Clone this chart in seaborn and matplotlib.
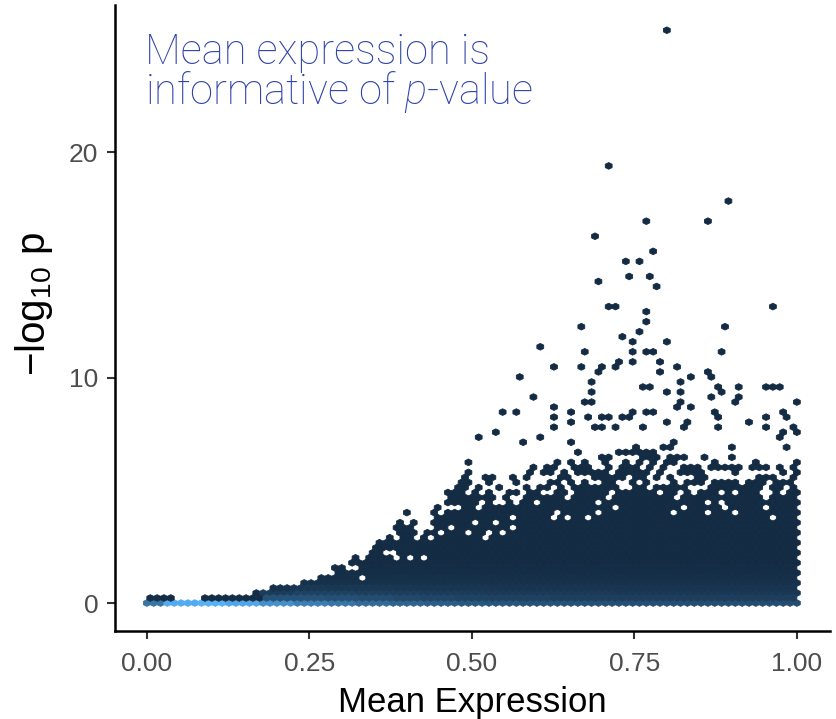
import numpy as np
import matplotlib
matplotlib.use("Agg")
import matplotlib.pyplot as plt
import seaborn as sns
from matplotlib.colors import LinearSegmentedColormap, Normalize

# ---------------- data ----------------
# upper edge of the solid (fully filled) hexbin body, per 0.025-wide x band
band_x = [0.000, 0.025, 0.050, 0.075, 0.100, 0.125, 0.150, 0.175, 0.200, 0.225,
          0.250, 0.275, 0.300, 0.325, 0.350, 0.375, 0.400, 0.425, 0.450, 0.475,
          0.500, 0.525, 0.550, 0.575, 0.600, 0.625, 0.650, 0.675, 0.700, 0.725,
          0.750, 0.775, 0.800, 0.825, 0.850, 0.875, 0.900, 0.925, 0.950, 0.975, 1.000]
solid_top = [0.25, 0.25, 0.0, 0.0, 0.25, 0.25, 0.25, 0.5, 0.7, 0.75,
             1.0, 1.25, 1.6, 1.9, 2.4, 2.7, 2.9, 2.8, 3.7, 4.1,
             4.3, 4.2, 4.4, 4.6, 4.7, 4.8, 4.9, 4.8, 5.0, 4.9,
             5.0, 4.9, 4.8, 4.8, 4.9, 5.0, 4.8, 4.9, 4.8, 4.8, 4.9]
# upper edge of the partly filled fringe above the solid body
fringe_top = [0.25, 0.25, 0.0, 0.0, 0.25, 0.25, 0.25, 0.5, 0.7, 0.75,
              1.0, 1.25, 1.8, 2.2, 2.7, 3.2, 4.0, 3.5, 4.5, 5.5,
              6.2, 5.6, 6.2, 6.6, 6.9, 7.0, 7.2, 7.4, 7.3, 7.1,
              7.6, 7.2, 7.3, 7.0, 7.0, 7.2, 7.0, 6.8, 7.2, 7.0, 6.8]

# counts of the lowest hexagon rows, per 0.05-wide x band
count_x = [0.00, 0.05, 0.10, 0.15, 0.20, 0.25, 0.30, 0.35, 0.40, 0.45, 0.50,
           0.55, 0.60, 0.65, 0.70, 0.75, 0.80, 0.85, 0.90, 0.95, 1.00]
count_y0 = [55, 95, 100, 92, 75, 62, 55, 48, 42, 38, 34,
            32, 30, 29, 28, 27, 27, 26, 26, 25, 25]
count_y1 = [3, 2, 2, 3, 30, 30, 28, 25, 22, 20, 18,
            17, 17, 16, 16, 15, 15, 15, 15, 15, 15]
count_y2 = [2, 2, 2, 2, 14, 18, 18, 16, 15, 14, 13,
            12, 12, 12, 12, 11, 11, 11, 11, 11, 11]
count_y3 = [1, 1, 1, 1, 6, 10, 10, 10, 9, 9, 9,
            8, 8, 8, 8, 8, 8, 8, 8, 8, 8]
count_upper_rows = [6, 4, 3, 2]   # rows 4..7 above the bottom

# isolated genes above the body
out_x = [0.795, 0.710, 0.895, 0.765, 0.865, 0.690, 0.780, 0.740, 0.760, 0.695,
         0.745, 0.775, 0.784, 0.709, 0.720, 0.665, 0.734, 0.757, 0.965, 0.770,
         0.770, 0.890, 0.750, 0.750, 0.750, 0.605, 0.670, 0.625, 0.665, 0.690,
         0.704, 0.724, 0.730, 0.574, 0.680, 0.680, 0.595, 0.676, 0.689, 0.625,
         0.550, 0.570, 0.650, 0.750, 0.625, 0.650, 0.675, 0.695, 0.715, 0.728,
         0.743, 0.625, 0.685, 0.695, 0.725, 0.514, 0.540, 0.580, 0.605, 0.490,
         0.800, 0.770, 0.780, 0.879, 0.790, 0.790, 0.814, 0.834, 0.859, 0.866,
         0.764, 0.776, 0.800, 0.820, 0.825, 0.875, 0.879, 0.914, 0.956, 0.964,
         0.976, 0.999, 0.865, 0.914, 0.910, 0.820, 0.815, 0.834, 0.870, 0.770,
         0.780, 0.884, 0.979, 0.984, 0.800, 0.828, 0.825, 0.764, 0.929, 0.955,
         0.955, 0.875, 0.994, 0.999, 0.979, 0.974,
         0.395, 0.405, 0.390, 0.385, 0.410, 0.440, 0.450, 0.460, 0.468, 0.480,
         0.360, 0.370]
out_y = [25.40, 19.47, 17.90, 17.03, 17.03, 16.36, 15.50, 15.05, 15.05, 14.40,
         14.40, 14.40, 13.90, 13.27, 13.27, 12.18, 11.75, 11.97, 13.04, 12.83,
         12.39, 12.39, 11.52, 11.07, 10.63, 11.29, 11.07, 10.41, 10.41, 10.19,
         10.41, 10.41, 10.63, 9.95, 9.74, 9.30, 9.06, 8.86, 8.86, 8.62,
         8.41, 8.41, 8.41, 8.41, 8.17, 7.97, 8.17, 8.17, 8.17, 8.17,
         8.17, 7.73, 7.73, 7.73, 7.73, 7.29, 7.52, 7.08, 7.29, 6.20,
         11.52, 11.07, 11.07, 11.07, 10.63, 10.19, 10.41, 9.95, 10.19, 9.95,
         9.50, 9.50, 9.30, 9.74, 9.45, 9.50, 9.30, 9.50, 9.65, 9.50,
         9.50, 8.86, 9.06, 9.06, 8.86, 8.86, 8.62, 8.62, 8.41, 8.41,
         8.41, 8.17, 8.41, 8.17, 7.97, 7.97, 7.73, 7.82, 7.97, 8.17,
         7.73, 7.73, 7.73, 7.52, 7.52, 7.29,
         4.00, 4.00, 3.60, 3.30, 3.50, 4.10, 4.30, 4.50, 4.70, 5.10,
         2.60, 2.70]

# empty cells inside the body
hole_x = [0.525, 0.625, 0.674, 0.725, 0.862, 0.908, 0.379, 0.415, 0.700, 0.815,
          0.830, 0.886, 0.955, 0.538, 0.563, 0.563, 0.548, 0.502]
hole_y = [2.9, 3.8, 3.8, 4.2, 4.0, 4.8, 2.35, 2.8, 4.4, 4.6,
          4.3, 4.3, 4.6, 3.5, 3.8, 3.4, 3.1, 3.5]

x_ticks = [0.00, 0.25, 0.50, 0.75, 1.00]
x_tick_labels = ["0.00", "0.25", "0.50", "0.75", "1.00"]
y_ticks = [0, 10, 20]

# ---------------- hex grid ----------------
NX, NY = 95, 57
YEXT = 25.4
SX, SY = 1.0 / NX, YEXT / NY


def nearest_cell(x, y):
    a, b = x / SX, y / SY
    i1, j1 = int(np.round(a)), int(np.round(b))
    i2, j2 = int(np.floor(a)), int(np.floor(b))
    d1 = (a - i1) ** 2 + 3.0 * (b - j1) ** 2
    d2 = (a - i2 - 0.5) ** 2 + 3.0 * (b - j2 - 0.5) ** 2
    return (0, i1, j1) if d1 <= d2 else (1, i2, j2)


def center(cell):
    lat, i, j = cell
    return (i + 0.5 * lat) * SX, (j + 0.5 * lat) * SY


def texture(i, j, lat):
    # deterministic dither value in [0, 1) for the ragged edge of the body
    h = (i * 374761393 + j * 668265263 + lat * 1442695041) & 0xFFFFFFFF
    h = ((h ^ (h >> 13)) * 1274126177) & 0xFFFFFFFF
    h ^= h >> 16
    return h / 4294967296.0


bx = np.array(band_x)
cx_arr = np.array(count_x)
cells = {}
for lat in (0, 1):
    for i in range(NX + 1 - lat):
        x = (i + 0.5 * lat) * SX
        k = int(np.argmin(np.abs(bx - x)))
        kc = int(np.argmin(np.abs(cx_arr - x)))
        for j in range(NY + 1 - lat):
            y = (j + 0.5 * lat) * SY
            r = 2 * j + lat
            st, ft = solid_top[k], fringe_top[k]
            fill = y <= st + 1e-6
            if ft > st + 1e-6:
                tex = texture(i, j, lat)
                if st - 1.2 < y <= st:
                    fill = tex > 0.06
                elif st < y <= ft:
                    frac = (y - st) / (ft - st)
                    fill = tex > 0.2 + 0.72 * frac
            if not fill:
                continue
            if r == 0:
                w = count_y0[kc]
            elif r == 1:
                w = count_y1[kc]
            elif r == 2:
                w = count_y2[kc]
            elif r == 3:
                w = count_y3[kc]
            elif r < 8:
                w = count_upper_rows[r - 4]
            else:
                w = 1
            cells[(lat, i, j)] = w

for hx, hy in zip(hole_x, hole_y):
    cells.pop(nearest_cell(hx, hy), None)
for ox, oy in zip(out_x, out_y):
    c = nearest_cell(ox, oy)
    cells[c] = cells.get(c, 0) + 1

pts = np.array([center(c) for c in cells])
wts = np.array(list(cells.values()), dtype=float)

# ---------------- figure ----------------
sns.set_theme(style="ticks")
plt.rcParams["font.family"] = ["Liberation Sans", "DejaVu Sans"]
plt.rcParams["mathtext.fontset"] = "custom"
plt.rcParams["mathtext.rm"] = "Liberation Sans"
plt.rcParams["mathtext.it"] = "Roboto:italic:light"

W, H = 837, 719
fig = plt.figure(figsize=(W / 100, H / 100), dpi=100)
L, R, B, T = 115, 830, 631, 5
ax = fig.add_axes([L / W, 1 - B / H, (R - L) / W, (B - T) / H])

cmap = LinearSegmentedColormap.from_list("gg", ["#132B43", "#56B1F7"])
ax.hexbin(pts[:, 0], pts[:, 1], C=wts, reduce_C_function=np.sum,
          gridsize=(NX, NY), extent=(0, 1, 0, YEXT), cmap=cmap,
          norm=Normalize(vmin=1, vmax=max(count_y0)),
          edgecolors="face", linewidths=0.6)

ax.set_xlim(-0.049, 1.051)
ax.set_ylim(-1.24, 26.52)
ax.set_xticks(x_ticks)
ax.set_xticklabels(x_tick_labels)
ax.set_yticks(y_ticks)
for s in ("top", "right"):
    ax.spines[s].set_visible(False)
for s in ("left", "bottom"):
    ax.spines[s].set_linewidth(1.8)
    ax.spines[s].set_color("black")
ax.tick_params(axis="both", length=6, width=1.5, color="#333333",
               labelsize=19, labelcolor="#4D4D4D")
ax.tick_params(axis="x", pad=9)
ax.tick_params(axis="y", pad=6)
ax.set_xlabel("Mean Expression", fontsize=25, color="black", labelpad=7)
ax.set_ylabel("\u2212log$_{10}$ p", fontsize=29, color="black")
ax.yaxis.set_label_coords(-0.084, 0.522)
ax.grid(False)
ax.set_facecolor("white")

tcol = "#2F43AA"
fam = ["Roboto", "DejaVu Sans"]
fig.text(145 / W, 1 - 64 / H, "Mean expression is", fontsize=30, color=tcol,
         family=fam, fontweight="light", va="baseline", ha="left")
fig.text(145 / W, 1 - 104 / H, r"informative of $p$-value", fontsize=30, color=tcol,
         family=fam, fontweight="light", va="baseline", ha="left")

fig.savefig("out.png", dpi=100, facecolor="white")
